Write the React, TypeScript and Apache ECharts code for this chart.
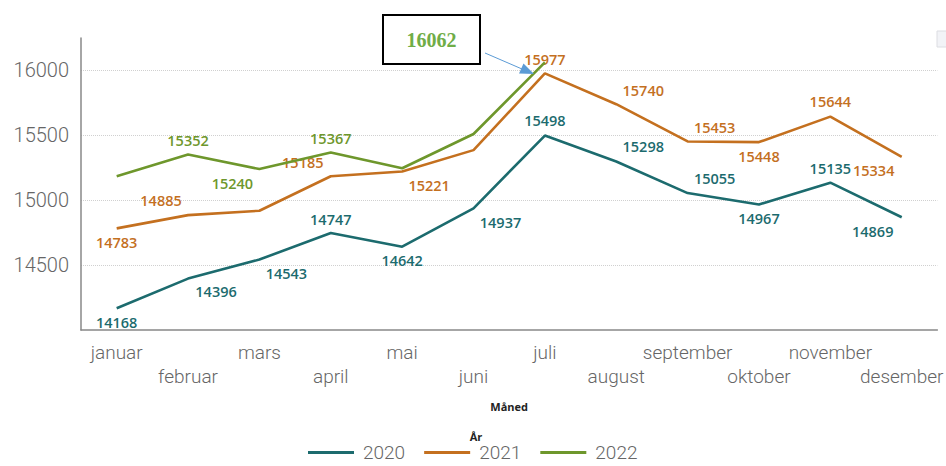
import React, { useEffect, useRef } from "react";
import * as echarts from "echarts";

const months = ["januar", "februar", "mars", "april", "mai", "juni", "juli", "august", "september", "oktober", "november", "desember"];
const v2020 = [14168, 14396, 14543, 14747, 14642, 14937, 15498, 15298, 15055, 14967, 15135, 14869];
const v2021 = [14783, 14885, 14919, 15185, 15221, 15386, 15977, 15740, 15453, 15448, 15644, 15334];
const v2022 = [15185, 15352, 15240, 15367, 15246, 15510, 16062];
// label offsets (null = hidden)
const off2020: ([number, number] | null)[] = [[0, 14], [28, 13], [27, 14], [0, -14], [0, 14], [27, 14], [0, -15], [27, -15], [27, -15], [0, 14], [0, -14], [-29, 14]];
const off2021: ([number, number] | null)[] = [[0, 14], [-27, -15], null, [-28, -14], [27, 14], null, [0, -14], [27, -14], [27, -14], [0, 14], [0, -15], [-28, 14]];
const off2022: ([number, number] | null)[] = [null, [0, -14], [-27, 14], [0, -14], null, null, null];
const years = ["2020", "2021", "2022"];
const colors = ["#1c6b6e", "#c4701f", "#6e972c"];
const annotationValue = "16062";

const FONT = "'Open Sans', sans-serif";
const AXFONT = "Roboto, sans-serif";

function mkData(vals: number[], offs: ([number, number] | null)[], color: string) {
  return vals.map((v, i) => {
    const o = offs[i];
    return {
      value: v,
      label: o
        ? { show: true, position: "inside", offset: o, color, fontSize: 14.5, fontWeight: 600, fontFamily: FONT }
        : { show: false },
    };
  });
}

export default function App() {
  const ref = useRef<HTMLDivElement>(null);
  useEffect(() => {
    if (!ref.current) return;
    const chart = echarts.init(ref.current, undefined, { renderer: "svg" });
    const series = [v2020, v2021, v2022].map((vals, k) => ({
      name: years[k],
      type: "line",
      data: mkData(vals, [off2020, off2021, off2022][k], colors[k]),
      symbol: "circle",
      symbolSize: 0,
      lineStyle: { width: 2.6, color: colors[k] },
      itemStyle: { color: colors[k] },
      emphasis: { disabled: true },
      z: 3 + k,
    }));
    const tipX = 534, tipY = 74;
    chart.setOption({
      animation: false,
      grid: { left: 81, right: -2, top: 38, bottom: 136, containLabel: false },
      legend: {
        left: 308,
        top: 443,
        padding: 0,
        icon: "rect",
        itemWidth: 46,
        itemHeight: 3,
        itemGap: 19,
        textStyle: { fontSize: 19, lineHeight: 19, fontWeight: 300, color: "#666", fontFamily: AXFONT, padding: [0, 0, 0, 4] },
        data: years,
      },
      xAxis: {
        type: "category",
        data: months,
        boundaryGap: true,
        name: "Måned",
        nameLocation: "middle",
        nameGap: 71,
        nameTextStyle: { fontSize: 11, fontWeight: "bold", color: "#222", fontFamily: FONT },
        axisLine: { lineStyle: { color: "#888", width: 1.5 } },
        axisTick: { alignWithLabel: true, length: 5, lineStyle: { color: "#888" } },
        axisLabel: {
          interval: 0,
          margin: 10,
          lineHeight: 24,
          fontSize: 19,
          fontWeight: 300,
          color: "#666",
          fontFamily: AXFONT,
          formatter: (v: string, i: number) => (i % 2 === 1 ? "\n" + v : v),
        },
      },
      yAxis: {
        type: "value",
        min: 14000,
        max: 16250,
        interval: 500,
        axisLine: { show: true, lineStyle: { color: "#888", width: 1.5 } },
        axisTick: { show: false },
        axisLabel: {
          fontSize: 20,
          fontWeight: 300,
          color: "#666",
          fontFamily: AXFONT,
          margin: 12,
          showMinLabel: false,
          showMaxLabel: false,
          formatter: (v: number) => String(v),
        },
        splitLine: { show: true, showMinLine: false, showMaxLine: false, lineStyle: { color: "#d0d0d0", type: "dotted" } },
      },
      series,
      graphic: [
        { type: "rect", shape: { x: 383, y: 15, width: 97, height: 49 }, style: { fill: "#fff", stroke: "#000", lineWidth: 2 }, z: 10 },
        {
          type: "text",
          x: 431.5,
          y: 39.5,
          style: { text: annotationValue, fill: "#70ad47", font: "bold 20px 'Liberation Serif', serif", align: "center", verticalAlign: "middle" },
          z: 11,
        },
        { type: "line", shape: { x1: 485, y1: 53, x2: 522, y2: 69 }, style: { stroke: "#5b9bd5", lineWidth: 1 }, z: 10 },
        { type: "polygon", shape: { points: [[tipX, tipY], [519, 73.5], [523.5, 63.5]] }, style: { fill: "#5b9bd5" }, z: 10 },
        {
          type: "text",
          x: 476,
          y: 436,
          style: { text: "År", fill: "#222", font: "bold 11px 'Open Sans', sans-serif", align: "center", verticalAlign: "middle" },
        },
        { type: "rect", shape: { x: 937, y: 31, width: 10, height: 16 }, style: { fill: "#f2f3f7", stroke: "#dcdde2", lineWidth: 1 } },
      ],
    });
    return () => chart.dispose();
  }, []);
  return <div ref={ref} style={{ position: "fixed", left: 0, top: 0, width: 946, height: 466, background: "#fff" }} />;
}
